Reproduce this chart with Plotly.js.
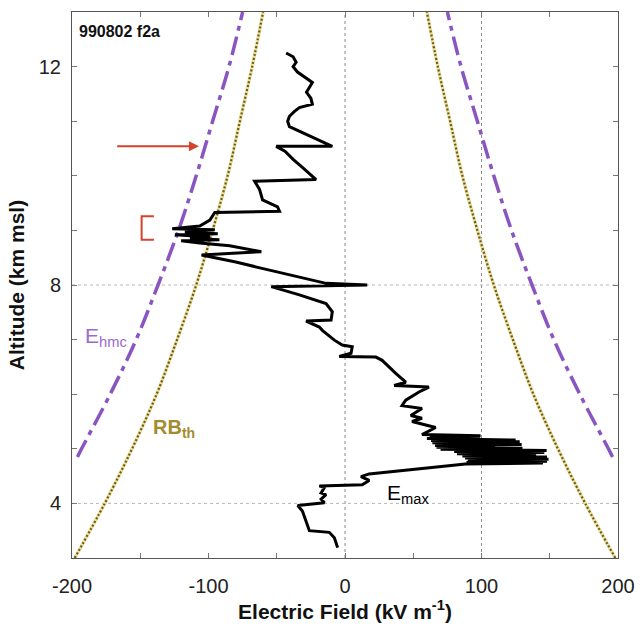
<!DOCTYPE html>
<html>
<head>
<meta charset="utf-8">
<script src="https://cdn.plot.ly/plotly-3.0.1.min.js"></script>
<style>
  html, body { margin: 0; padding: 0; background: #fff; }
  #chart { width: 642px; height: 629px; }
</style>
</head>
<body>
<div id="chart"></div>
<script>
// Runaway-breakdown threshold field magnitude (kV/m) against altitude (km msl)
const rbAlt = [3, 4, 5, 6, 7, 8, 9, 10, 11, 12, 13];
const rbKV  = [198, 176, 156, 138, 123, 109, 97, 86, 77, 68, 60];

// Hydrometeor corona-onset field magnitude (kV/m) against altitude (km msl)
const hmcAlt = [4.85, 5, 6, 7, 8, 9, 10, 11, 12, 13];
const hmcKV  = [196, 193, 172, 153, 137, 122, 109, 97, 85, 75];

// Balloon sounding: maximum electric field (kV/m) with altitude (km msl), top to bottom
const fieldKV = [
  -43.1, -38, -35.8, -38, -34.8, -30, -23.9, -28.2, -25, -23.9, -33.4, -37, -40.7, -42, -40.7,
  -9.3, -50.4, -44, -38, -31, -21.2, -66.2, -62.6, -60.4, -49.4, -48.0, -95.4,
  -99, -106.4, -126.6, -95.4, -117.3, -93.2, -124.6, -99, -113.6, -92, -120, -106.4, -84.5, -61.3,
  -105.1, -80, -60, -40, -13.9, 16.3, -54, -33.4, -13.9, -9.3, -10.2, -28.5, -18.8, -16.6,
  -7.8, -2.0, 5.3, 4.4, -4.2, 22.6, 27.2, 37.2, 44.5, 36.0, 61.5, 54.2, 44.5, 41.8, 56.4,
  48.2, 56.4, 49.1, 59.1, 66.4, 56.4,
  99.3, 62, 99, 60, 125, 63, 128, 64, 129.4, 66, 110, 67, 130, 70,
  147.7, 80, 146, 82, 140, 86, 148, 88, 149.1, 90, 148, 89, 145, 88.3,
  17.7, 11.7, 17.7, 12.6, -18.8, -15.1, -17.5, -13.9,
  -17.5, -15.1, -34.6, -31.2, -28.5, -26.1, -11.5, -7.8, -5.4
];
const fieldAlt = [
  12.25, 12.18, 12.08, 12.0, 11.90, 11.82, 11.71, 11.53, 11.42, 11.31, 11.25, 11.18, 11.09, 11.0, 10.90,
  10.54, 10.54, 10.45, 10.30, 10.15, 9.93, 9.90, 9.75, 9.56, 9.43, 9.35, 9.33,
  9.19, 9.08, 9.03, 9.01, 8.97, 8.94, 8.92, 8.88, 8.85, 8.83, 8.81, 8.77, 8.72, 8.61,
  8.55, 8.42, 8.30, 8.18, 8.03, 8.0, 7.97, 7.82, 7.66, 7.51, 7.36, 7.34, 7.23, 7.17,
  6.99, 6.90, 6.87, 6.75, 6.69, 6.68, 6.62, 6.38, 6.22, 6.16, 6.13, 6.04, 5.89, 5.79, 5.74,
  5.61, 5.56, 5.50, 5.43, 5.39, 5.26,
  5.24, 5.22, 5.21, 5.19, 5.16, 5.15, 5.13, 5.11, 5.08, 5.06, 5.04, 5.03, 5.01, 4.99,
  4.97, 4.95, 4.93, 4.91, 4.89, 4.87, 4.85, 4.83, 4.81, 4.79, 4.77, 4.75, 4.74, 4.72,
  4.54, 4.49, 4.42, 4.34, 4.32, 4.29, 4.19, 4.16,
  4.08, 4.01, 3.96, 3.86, 3.68, 3.50, 3.47, 3.37, 3.19
];

// Red bracket marking the layer near 9 km
const bracketKV  = [-140, -149, -149, -140];
const bracketAlt = [9.26, 9.26, 8.83, 8.83];

// Dotted reference grid positions
const gridKV  = [0, 100];
const gridAlt = [4, 8];

// Axis ticks
const xTickVals = [-200, -150, -100, -50, 0, 50, 100, 150, 200];
const xTickText = ['-200', '', '-100', '', '0', '', '100', '', '200'];
const yTickVals = [3, 4, 5, 6, 7, 8, 9, 10, 11, 12, 13];
const yTickText = ['', '4', '', '', '', '8', '', '', '', '12', ''];

const FONT = 'Arial, "Liberation Sans", Helvetica, sans-serif';
const OLIVE_DOT = '#6c5a1c';
const OLIVE_HALO = '#ece2a4';
const PURPLE = '#8a55c0';

const neg = a => a.map(v => -v);

const traces = [];
// RB threshold: pale halo under dark dots, both signs
[neg(rbKV), rbKV].forEach(xs => {
  traces.push({x: xs, y: rbAlt, mode: 'lines', hoverinfo: 'skip',
    line: {color: OLIVE_HALO, width: 3.5, shape: 'spline'}});
  traces.push({x: xs, y: rbAlt, mode: 'lines', hoverinfo: 'skip',
    line: {color: OLIVE_DOT, width: 2.2, dash: '2px,2px', shape: 'spline'}});
});
// Corona-onset threshold, dash-dot
[neg(hmcKV), hmcKV].forEach(xs => {
  traces.push({x: xs, y: hmcAlt, mode: 'lines', hoverinfo: 'skip',
    line: {color: PURPLE, width: 3.5, dash: '19px,6px,5px,6px', shape: 'spline'}});
});
// Measured field profile
traces.push({x: fieldKV, y: fieldAlt, mode: 'lines', hoverinfo: 'skip',
  line: {color: '#000', width: 3}});
// Bracket
traces.push({x: bracketKV, y: bracketAlt, mode: 'lines', hoverinfo: 'skip',
  line: {color: '#d4432c', width: 2}});

const shapes = [];
gridKV.forEach(v => shapes.push({type: 'line', xref: 'x', yref: 'paper', x0: v, x1: v, y0: 0, y1: 1,
  line: {color: '#8a8a8a', width: 1, dash: 'dot'}, layer: 'below'}));
gridAlt.forEach(v => shapes.push({type: 'line', xref: 'paper', yref: 'y', x0: 0, x1: 1, y0: v, y1: v,
  line: {color: '#b8b8b8', width: 1, dash: 'dot'}, layer: 'below'}));

const annotations = [
  {x: -196, y: 12.64, xref: 'x', yref: 'y', xanchor: 'left', yanchor: 'middle', showarrow: false,
   text: '<b>990802 f2a</b>', font: {family: FONT, size: 16, color: '#111'}},
  {x: -192, y: 7.05, xref: 'x', yref: 'y', xanchor: 'left', yanchor: 'middle', showarrow: false,
   text: 'E<sub>hmc</sub>', font: {family: FONT, size: 21, color: '#9a6bcf'}},
  {x: -142, y: 5.38, xref: 'x', yref: 'y', xanchor: 'left', yanchor: 'middle', showarrow: false,
   text: '<b>RB<sub>th</sub></b>', font: {family: FONT, size: 20, color: '#a38c30'}},
  {x: 29, y: 4.18, xref: 'x', yref: 'y', xanchor: 'left', yanchor: 'middle', showarrow: false,
   text: 'E<sub>max</sub>', font: {family: FONT, size: 21, color: '#000'}},
  {x: -107, y: 10.54, xref: 'x', yref: 'y', ax: -168, ay: 10.54, axref: 'x', ayref: 'y',
   text: '', showarrow: true, arrowhead: 2, arrowsize: 1, arrowwidth: 2, arrowcolor: '#d4432c'}
];

const axisCommon = {
  showgrid: false, zeroline: false, showline: true, linecolor: '#555', linewidth: 1,
  mirror: 'ticks', ticks: 'inside', ticklen: 5, tickcolor: '#777', tickwidth: 1,
  tickfont: {family: FONT, size: 20, color: '#222'}
};

const layout = {
  width: 642, height: 629,
  margin: {l: 72, r: 24, t: 12, b: 71},
  paper_bgcolor: '#fff', plot_bgcolor: '#fff',
  showlegend: false,
  xaxis: Object.assign({}, axisCommon, {
    range: [-200, 200], tickmode: 'array', tickvals: xTickVals, ticktext: xTickText,
    ticklabelstandoff: 10,
    title: {text: '<b>Electric Field (kV m<sup>-1</sup>)</b>', font: {family: FONT, size: 21, color: '#111'}, standoff: 6}
  }),
  yaxis: Object.assign({}, axisCommon, {
    range: [3, 13], tickmode: 'array', tickvals: yTickVals, ticktext: yTickText,
    ticklabelstandoff: 6,
    title: {text: '<b>Altitude (km msl)</b>', font: {family: FONT, size: 21, color: '#111'}, standoff: 8}
  }),
  shapes: shapes,
  annotations: annotations
};

Plotly.newPlot('chart', traces, layout, {displayModeBar: false, staticPlot: true});
</script>
</body>
</html>
